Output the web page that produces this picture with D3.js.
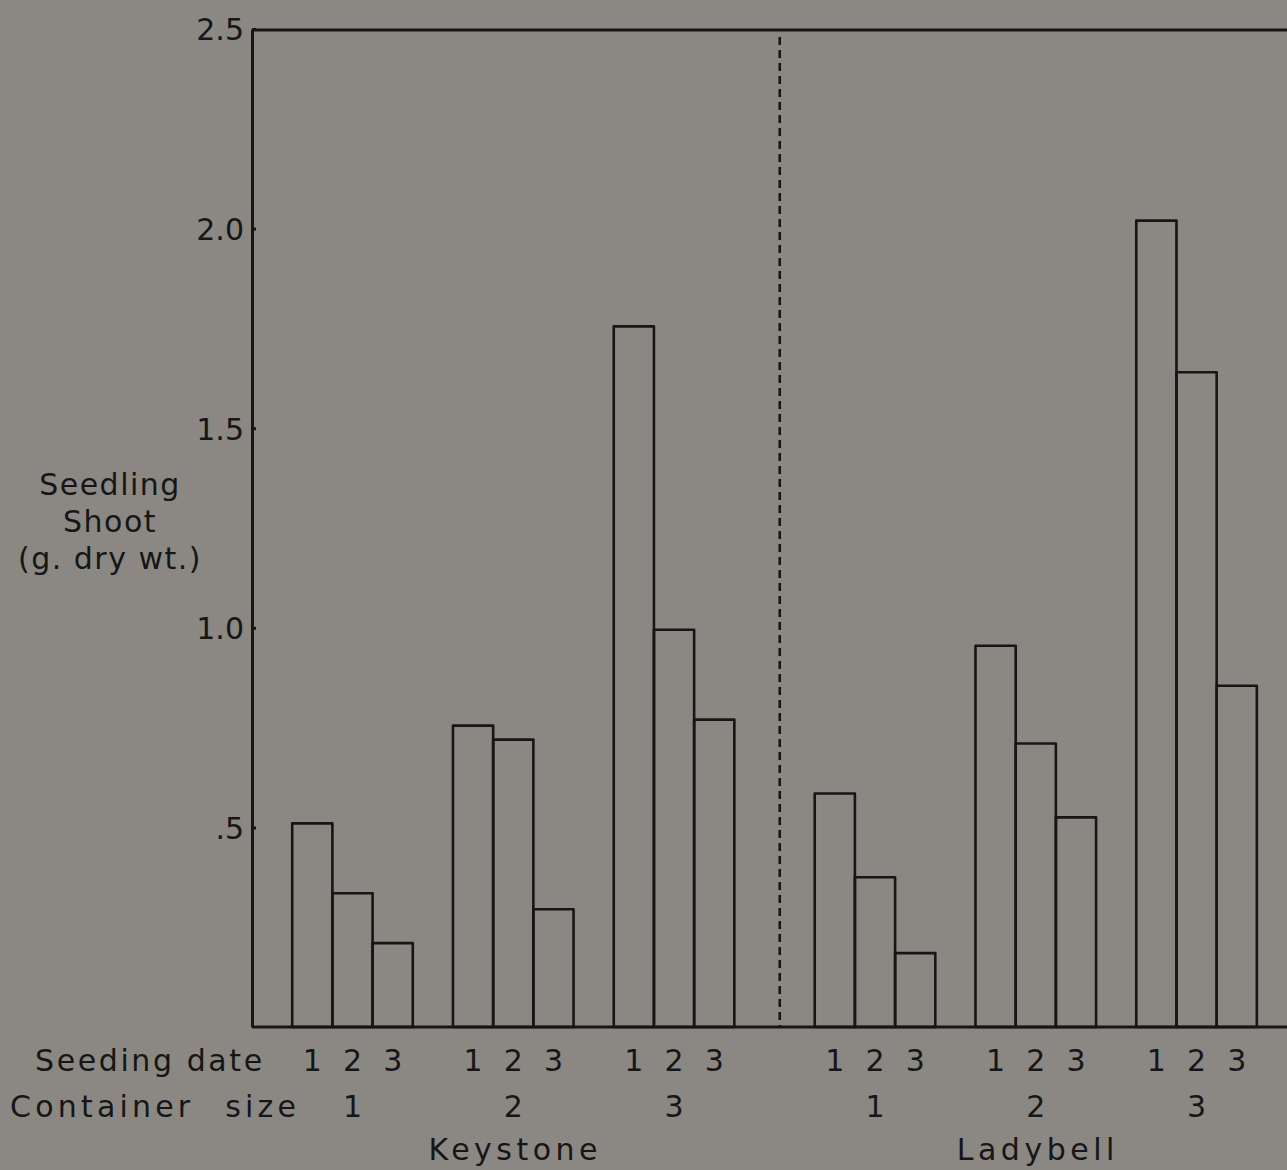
<!DOCTYPE html>
<html>
<head>
<meta charset="utf-8">
<script src="https://cdn.jsdelivr.net/npm/d3@7/dist/d3.min.js"></script>
<style>
  html, body { margin: 0; padding: 0; background: #8b8883; }
  svg { display: block; }
  text { font-family: "DejaVu Sans", sans-serif; fill: #161616; }
</style>
</head>
<body>
<svg id="chart" width="1287" height="1170"></svg>
<script>
// Shoot dry weight (g) by cultivar, container size and seeding date
const cultivars = ["Keystone", "Ladybell"];
const containerSizes = ["1", "2", "3"];
const seedingDates = ["1", "2", "3"];

// values[size][date]
const keystone = [
  [0.51, 0.335, 0.21],
  [0.755, 0.72, 0.295],
  [1.755, 0.995, 0.77]
];
const ladybell = [
  [0.585, 0.375, 0.185],
  [0.955, 0.71, 0.525],
  [2.02, 1.64, 0.855]
];

const yTickValues = [0.5, 1.0, 1.5, 2.0, 2.5];
const yTickLabels = [".5", "1.0", "1.5", "2.0", "2.5"];
const yTitle = ["Seedling", "Shoot", "(g. dry wt.)"];
const rowTitles = ["Seeding date", "Container size"];

const ink = "#161616";
const svg = d3.select("#chart");

const plotLeft = 252, plotRight = 1287, plotTop = 29, plotBottom = 1027;

// each bar occupies one slot; one empty slot between groups, two between cultivars
const slotsPerCultivar = 13;
const x = d3.scaleLinear().domain([0, 25.75]).range([plotLeft, plotRight]);
const y = d3.scaleLinear().domain([0, 2.5]).range([plotBottom, plotTop]);

const bars = [];
[keystone, ladybell].forEach((series, c) => {
  series.forEach((row, g) => {
    row.forEach((v, d) => {
      bars.push({ c, g, d, v, slot: 1 + c * slotsPerCultivar + g * 4 + d });
    });
  });
});

// bars (open rectangles)
svg.append("g").selectAll("rect").data(bars).join("rect")
  .attr("x", b => x(b.slot))
  .attr("y", b => y(b.v))
  .attr("width", b => x(b.slot + 1) - x(b.slot))
  .attr("height", b => y(0) - y(b.v))
  .attr("fill", "none")
  .attr("stroke", ink)
  .attr("stroke-width", 2.6)
  .attr("stroke-linejoin", "round");

// dashed divider between cultivars
svg.append("line")
  .attr("x1", x(13.13)).attr("x2", x(13.13))
  .attr("y1", y(2.5) + 8).attr("y2", y(0))
  .attr("stroke", ink).attr("stroke-width", 2.6)
  .attr("stroke-dasharray", "8,5");

// frame: top and bottom lines
svg.append("line")
  .attr("x1", plotLeft).attr("x2", plotRight)
  .attr("y1", y(2.5) + 1).attr("y2", y(2.5) + 1)
  .attr("stroke", ink).attr("stroke-width", 3);
svg.append("line")
  .attr("x1", plotLeft).attr("x2", plotRight)
  .attr("y1", y(0)).attr("y2", y(0))
  .attr("stroke", ink).attr("stroke-width", 3);

// y axis
const yAxis = d3.axisLeft(y)
  .tickValues(yTickValues)
  .tickFormat((d, i) => yTickLabels[i])
  .tickSizeInner(-4)
  .tickSizeOuter(0)
  .tickPadding(8);
const ya = svg.append("g").attr("transform", `translate(${plotLeft},0)`).call(yAxis);
ya.select(".domain").attr("stroke", ink).attr("stroke-width", 3);
ya.selectAll(".tick line").attr("stroke", ink).attr("stroke-width", 3);
ya.selectAll(".tick text")
  .attr("font-size", 30)
  .attr("font-family", "DejaVu Sans, sans-serif")
  .attr("fill", ink)
  .attr("dy", "0.36em");

// y title
svg.append("text")
  .attr("text-anchor", "middle")
  .attr("font-size", 30)
  .attr("letter-spacing", 1.5)
  .selectAll("tspan").data(yTitle).join("tspan")
  .attr("x", 110)
  .attr("y", (d, i) => 495 + i * 37)
  .text(d => d);

// row titles beneath the axis
const rowY = [1071, 1117];
svg.append("text")
  .attr("x", 35).attr("y", rowY[0])
  .attr("font-size", 30).attr("letter-spacing", 2.6)
  .text(rowTitles[0]);
svg.append("text")
  .attr("x", 10).attr("y", rowY[1])
  .attr("font-size", 30).attr("letter-spacing", 4.2).attr("word-spacing", 17)
  .text(rowTitles[1]);

// seeding date numbers under each bar
svg.append("g").selectAll("text").data(bars).join("text")
  .attr("x", b => x(b.slot + 0.5))
  .attr("y", rowY[0])
  .attr("text-anchor", "middle")
  .attr("font-size", 30)
  .text(b => seedingDates[b.d]);

// container size numbers under each group
const groups = [];
cultivars.forEach((name, c) => containerSizes.forEach((s, g) =>
  groups.push({ c, g, label: s, center: 1 + c * slotsPerCultivar + g * 4 + 1.5 })));
svg.append("g").selectAll("text").data(groups).join("text")
  .attr("x", d => x(d.center))
  .attr("y", rowY[1])
  .attr("text-anchor", "middle")
  .attr("font-size", 30)
  .text(d => d.label);

// cultivar names
svg.append("g").selectAll("text").data(cultivars).join("text")
  .attr("x", (d, c) => x(1 + c * slotsPerCultivar + 4 + 1.5) + 2)
  .attr("y", 1160)
  .attr("text-anchor", "middle")
  .attr("font-size", 30)
  .attr("letter-spacing", 4.5)
  .text(d => d);
</script>
</body>
</html>
